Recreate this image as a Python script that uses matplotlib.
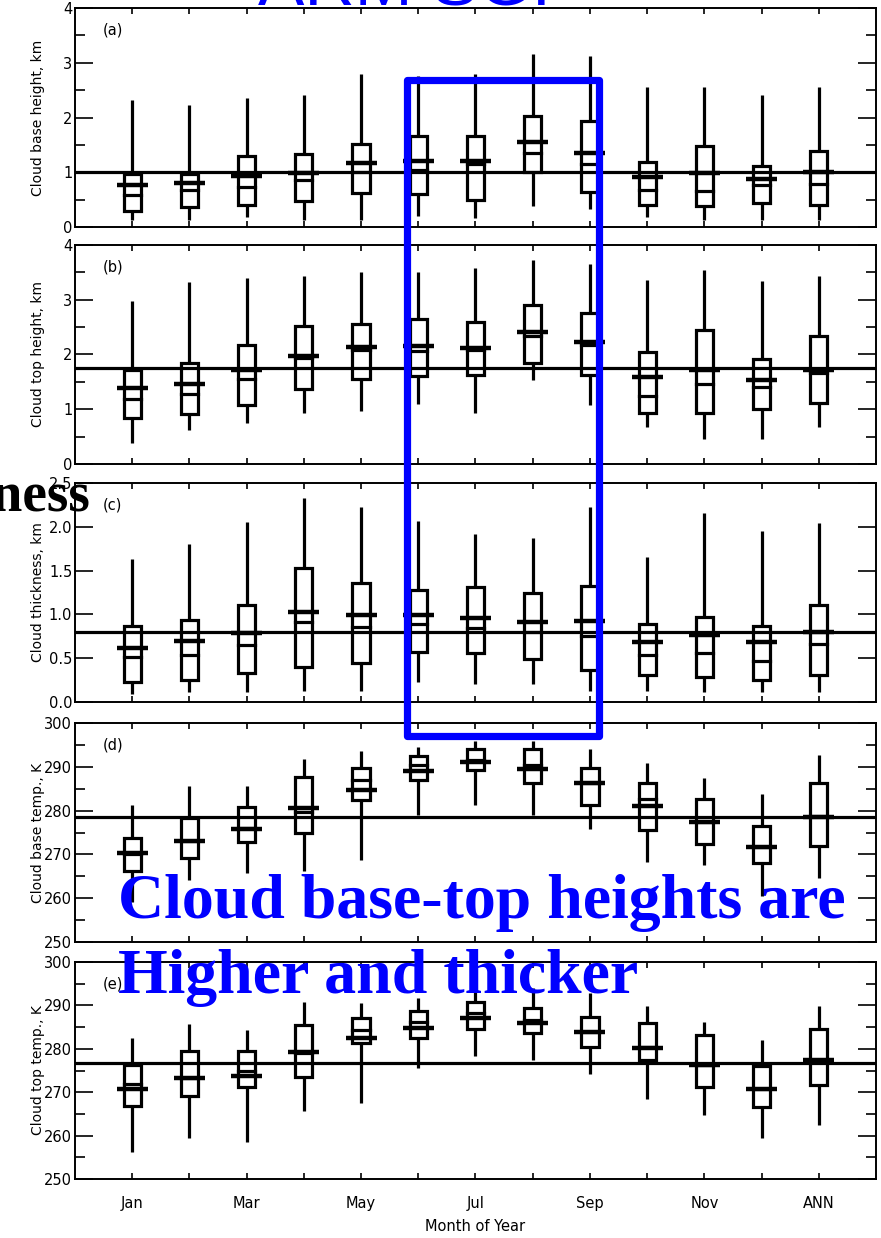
import numpy as np
import matplotlib
matplotlib.use("Agg")
import matplotlib.pyplot as plt
from matplotlib.ticker import MultipleLocator
from matplotlib.patches import Rectangle

# month positions 1..13 (Jan..Dec, ANN)
months = ["Jan", "Feb", "Mar", "Apr", "May", "Jun", "Jul", "Aug", "Sep", "Oct", "Nov", "Dec", "ANN"]
xlabels = ["Jan", "", "Mar", "", "May", "", "Jul", "", "Sep", "", "Nov", "", "ANN"]

# (a) cloud base height, km
a_lo   = [0.12, 0.12, 0.19, 0.12, 0.12, 0.21, 0.17, 0.39, 0.32, 0.18, 0.12, 0.12, 0.12]
a_q1   = [0.29, 0.36, 0.41, 0.48, 0.62, 0.61, 0.50, 1.00, 0.64, 0.41, 0.38, 0.44, 0.41]
a_med  = [0.58, 0.68, 0.73, 0.85, 1.00, 1.04, 1.15, 1.36, 1.15, 0.68, 0.65, 0.76, 0.78]
a_mean = [0.76, 0.80, 0.94, 0.98, 1.17, 1.21, 1.21, 1.55, 1.36, 0.91, 0.99, 0.87, 1.00]
a_q3   = [0.96, 0.97, 1.30, 1.33, 1.52, 1.67, 1.67, 2.03, 1.93, 1.18, 1.48, 1.11, 1.38]
a_hi   = [2.32, 2.23, 2.35, 2.41, 2.79, 2.75, 2.79, 3.16, 3.12, 2.56, 2.56, 2.41, 2.56]
a_ref = 1.0

# (b) cloud top height, km
b_lo   = [0.38, 0.63, 0.74, 0.94, 0.96, 1.09, 0.93, 1.53, 1.08, 0.68, 0.45, 0.45, 0.68]
b_q1   = [0.84, 0.91, 1.07, 1.37, 1.55, 1.60, 1.62, 1.84, 1.63, 0.93, 0.93, 1.00, 1.11]
b_med  = [1.18, 1.28, 1.55, 1.93, 2.09, 2.07, 2.09, 2.33, 2.18, 1.25, 1.46, 1.41, 1.66]
b_mean = [1.38, 1.46, 1.71, 1.98, 2.13, 2.15, 2.11, 2.42, 2.22, 1.58, 1.72, 1.54, 1.71]
b_q3   = [1.72, 1.84, 2.18, 2.52, 2.55, 2.65, 2.60, 2.91, 2.76, 2.05, 2.45, 1.92, 2.33]
b_hi   = [2.97, 3.32, 3.40, 3.43, 3.50, 3.51, 3.58, 3.73, 3.65, 3.36, 3.54, 3.35, 3.43]
b_ref = 1.76

# (c) cloud thickness, km
c_lo   = [0.09, 0.11, 0.11, 0.13, 0.13, 0.23, 0.21, 0.21, 0.13, 0.13, 0.11, 0.11, 0.11]
c_q1   = [0.23, 0.25, 0.33, 0.40, 0.45, 0.57, 0.56, 0.49, 0.36, 0.31, 0.29, 0.25, 0.31]
c_med  = [0.51, 0.54, 0.65, 0.91, 0.86, 0.89, 0.84, 0.80, 0.75, 0.54, 0.56, 0.47, 0.66]
c_mean = [0.62, 0.70, 0.79, 1.03, 0.99, 0.99, 0.96, 0.91, 0.92, 0.68, 0.77, 0.68, 0.80]
c_q3   = [0.87, 0.94, 1.11, 1.53, 1.36, 1.28, 1.31, 1.25, 1.32, 0.89, 0.97, 0.87, 1.11]
c_hi   = [1.63, 1.80, 2.05, 2.33, 2.23, 2.07, 1.92, 1.87, 2.23, 1.66, 2.16, 1.95, 2.04]
c_ref = 0.80

# (d) cloud base temperature, K
d_lo   = [259.2, 264.2, 265.8, 266.2, 268.8, 279.0, 281.2, 279.0, 275.9, 268.2, 267.5, 260.4, 264.6]
d_q1   = [266.2, 269.1, 272.8, 274.8, 282.5, 286.9, 289.2, 286.3, 281.3, 275.5, 272.3, 268.1, 271.9]
d_med  = [270.2, 273.0, 276.0, 279.6, 286.9, 290.4, 291.5, 290.4, 286.2, 282.7, 277.3, 271.7, 278.8]
d_mean = [270.4, 273.1, 275.9, 280.5, 284.8, 289.0, 291.0, 289.6, 286.2, 281.0, 277.3, 271.7, 278.5]
d_q3   = [273.7, 278.3, 280.8, 287.7, 289.8, 292.5, 294.1, 294.0, 289.8, 286.3, 282.7, 276.5, 286.3]
d_hi   = [281.3, 285.6, 285.6, 291.8, 293.6, 294.5, 295.8, 296.0, 294.0, 290.8, 287.5, 283.7, 292.7]
d_ref = 278.6

# (e) cloud top temperature, K
e_lo   = [256.2, 259.5, 258.5, 265.7, 267.5, 275.5, 278.3, 277.4, 274.2, 268.5, 264.7, 259.5, 262.4]
e_q1   = [266.8, 269.2, 271.1, 273.4, 281.4, 282.4, 284.5, 283.7, 280.5, 277.4, 271.1, 266.5, 271.6]
e_med  = [272.0, 273.2, 274.9, 279.0, 284.3, 286.2, 288.2, 286.6, 283.9, 280.3, 276.2, 270.8, 277.0]
e_mean = [270.8, 273.2, 273.7, 279.3, 282.6, 284.9, 287.2, 286.0, 283.9, 280.1, 276.2, 270.8, 277.5]
e_q3   = [276.2, 279.5, 279.5, 285.5, 287.0, 288.8, 290.7, 289.3, 287.4, 286.0, 283.2, 276.0, 284.5]
e_hi   = [282.5, 285.7, 284.3, 290.8, 290.5, 291.8, 293.0, 293.9, 292.9, 289.8, 286.2, 282.0, 289.8]
e_ref = 276.8

panels = [
    ("(a)", "Cloud base height, km", (0, 4), [0, 1, 2, 3, 4], ["0", "1", "2", "3", "4"], 0.5,
     a_lo, a_q1, a_med, a_mean, a_q3, a_hi, a_ref),
    ("(b)", "Cloud top height, km", (0, 4), [0, 1, 2, 3, 4], ["0", "1", "2", "3", "4"], 0.5,
     b_lo, b_q1, b_med, b_mean, b_q3, b_hi, b_ref),
    ("(c)", "Cloud thickness, km", (0, 2.5), [0, 0.5, 1.0, 1.5, 2.0, 2.5],
     ["0.0", "0.5", "1.0", "1.5", "2.0", "2.5"], None,
     c_lo, c_q1, c_med, c_mean, c_q3, c_hi, c_ref),
    ("(d)", "Cloud base temp., K", (250, 300), [250, 260, 270, 280, 290, 300],
     ["250", "260", "270", "280", "290", "300"], 5,
     d_lo, d_q1, d_med, d_mean, d_q3, d_hi, d_ref),
    ("(e)", "Cloud top temp., K", (250, 300), [250, 260, 270, 280, 290, 300],
     ["250", "260", "270", "280", "290", "300"], 5,
     e_lo, e_q1, e_med, e_mean, e_q3, e_hi, e_ref),
]

W, H = 881, 1238
fig = plt.figure(figsize=(W / 100, H / 100), dpi=100)

# axes boxes in pixels: (top, bottom)
boxes_px = [(8, 227), (245, 464), (483, 702), (723, 942), (962, 1179)]
left_px, right_px = 75, 876

x = np.arange(1, 14)
bw = 0.15   # box half width
mw = 0.27   # mean bar half width
lw = 2.3
fs = 10.5

axes = []
for (top, bot), p in zip(boxes_px, panels):
    lab, ylab, ylim, yt, ytl, minor, lo, q1, med, mean, q3, hi, ref = p
    ax = fig.add_axes([left_px / W, 1 - bot / H, (right_px - left_px) / W, (bot - top) / H])
    axes.append(ax)
    for xi, l, b, m, mn, t, h in zip(x, lo, q1, med, mean, q3, hi):
        ax.plot([xi, xi], [l, b], color="k", lw=lw, solid_capstyle="butt")
        ax.plot([xi, xi], [t, h], color="k", lw=lw, solid_capstyle="butt")
        ax.add_patch(Rectangle((xi - bw, b), 2 * bw, t - b, fill=False, ec="k", lw=lw))
        ax.plot([xi - bw, xi + bw], [m, m], color="k", lw=lw)
        ax.plot([xi - mw, xi + mw], [mn, mn], color="k", lw=3.2, solid_capstyle="butt")
    ax.axhline(ref, color="k", lw=2.3)
    ax.set_xlim(0, 14)
    ax.set_ylim(*ylim)
    ax.set_xticks(x)
    ax.set_yticks(yt)
    ax.set_yticklabels(ytl, fontsize=fs)
    if minor:
        ax.yaxis.set_minor_locator(MultipleLocator(minor))
    ax.tick_params(axis="y", which="major", direction="in", length=13, width=1.2,
                   left=True, right=True, pad=2)
    ax.tick_params(axis="y", which="minor", direction="in", length=7, width=1.2,
                   left=True, right=True)
    ax.tick_params(axis="x", which="major", direction="in", length=4, width=1.2,
                   top=True, bottom=True)
    for s in ax.spines.values():
        s.set_linewidth(1.4)
    ax.set_ylabel(ylab, fontsize=fs - 0.5)
    ax.text(0.035, 0.9, lab, transform=ax.transAxes, fontsize=fs, va="center")
    ax.set_xticklabels([])

axes[-1].set_xticklabels(xlabels, fontsize=fs)
axes[-1].tick_params(axis="x", pad=12)
axes[-1].set_xlabel("Month of Year", fontsize=fs, labelpad=6)
for ax in axes:
    ax.yaxis.set_label_coords(-0.037, 0.5)

# slide overlays
fig.add_artist(Rectangle((407 / W, 1 - 736 / H), (599 - 407) / W, (736 - 80) / H,
                         transform=fig.transFigure, fill=False, ec="#0000ff", lw=5.2,
                         joinstyle="round"))
fig.text(258 / W, 1 - 6 / H, "ARM SGP", color="#0000ff", fontsize=50,
         family="Liberation Sans", ha="left", va="baseline")
fig.text(90 / W, 1 - 510 / H, "Cloud thickness", color="k", fontsize=40,
         family="Liberation Serif", fontweight="bold", ha="right", va="baseline")
fig.text(118 / W, 1 - 918 / H, "Cloud base-top heights are", color="#0000ff", fontsize=46,
         family="Liberation Serif", fontweight="bold", ha="left", va="baseline")
fig.text(118 / W, 1 - 993 / H, "Higher and thicker", color="#0000ff", fontsize=46,
         family="Liberation Serif", fontweight="bold", ha="left", va="baseline")

fig.savefig("out.png", dpi=100)
